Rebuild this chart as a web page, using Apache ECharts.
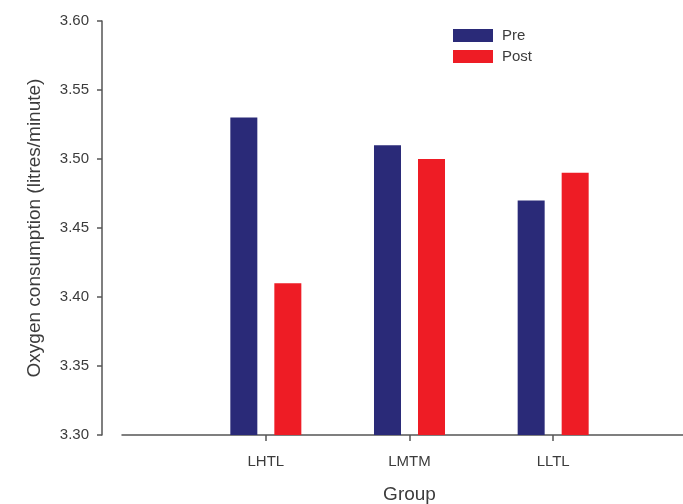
<!DOCTYPE html>
<html>
<head>
<meta charset="utf-8">
<script src="https://cdn.jsdelivr.net/npm/echarts@6/dist/echarts.min.js"></script>
<style>html,body{margin:0;padding:0;background:#fff;}#chart{width:683px;height:504px;}</style>
</head>
<body>
<div id="chart"></div>
<script>
var categories = ['LHTL', 'LMTM', 'LLTL'];
var preValues = [3.53, 3.51, 3.47];
var postValues = [3.41, 3.50, 3.49];
var yTicks = [3.30, 3.35, 3.40, 3.45, 3.50, 3.55, 3.60];

var chart = echarts.init(document.getElementById('chart'));
var axisColor = '#555';
var textColor = '#3c3c3c';
var font = 'Liberation Sans, Arial, sans-serif';
chart.setOption({
  animation: false,
  backgroundColor: '#fff',
  textStyle: {fontFamily: font},
  legend: {
    orient: 'vertical',
    left: 453,
    top: 28,
    padding: 0,
    itemWidth: 40,
    itemHeight: 13,
    itemGap: 6,
    icon: 'rect',
    textStyle: {fontSize: 15, color: textColor, fontFamily: font, padding: [0, 0, 0, 4]},
    data: ['Pre', 'Post']
  },
  grid: [
    {left: 194, right: 58, top: 21, bottom: 69, containLabel: false, outerBoundsMode: 'none'},
    {left: 122, right: 0, top: 21, bottom: 69, containLabel: false, outerBoundsMode: 'none'}
  ],
  xAxis: [
    {
      type: 'category',
      gridIndex: 0,
      data: categories,
      axisLine: {show: false},
      axisTick: {show: true, alignWithLabel: true, length: 6, lineStyle: {color: axisColor, width: 1.5}},
      axisLabel: {color: textColor, fontSize: 15, margin: 19, fontFamily: font},
      name: 'Group',
      nameLocation: 'middle',
      nameGap: 50,
      nameTextStyle: {color: textColor, fontSize: 19, fontFamily: font}
    },
    {
      type: 'value',
      gridIndex: 1,
      min: 0, max: 1,
      axisLine: {show: true, onZero: false, lineStyle: {color: axisColor, width: 1.5}},
      axisTick: {show: false},
      axisLabel: {show: false},
      splitLine: {show: false}
    }
  ],
  yAxis: [
    {
      type: 'value',
      gridIndex: 0,
      min: yTicks[0],
      max: yTicks[yTicks.length - 1],
      interval: 0.05,
      offset: 92,
      axisLine: {show: true, lineStyle: {color: axisColor, width: 1.5}},
      axisTick: {show: true, length: 5, lineStyle: {color: axisColor, width: 1.5}},
      axisLabel: {color: textColor, fontSize: 15, margin: 13, fontFamily: font,
        formatter: function (v) { return v.toFixed(2); }},
      splitLine: {show: false},
      name: 'Oxygen consumption (litres/minute)',
      nameLocation: 'middle',
      nameGap: 58,
      nameTextStyle: {color: textColor, fontSize: 19, fontFamily: font}
    },
    {
      type: 'value',
      gridIndex: 1,
      min: 0, max: 1,
      show: false
    }
  ],
  series: [
    {
      name: 'Pre', type: 'bar', xAxisIndex: 0, yAxisIndex: 0,
      data: preValues, barWidth: 27, barGap: '63%',
      itemStyle: {color: '#2a2a78'}
    },
    {
      name: 'Post', type: 'bar', xAxisIndex: 0, yAxisIndex: 0,
      data: postValues, barWidth: 27, barGap: '63%',
      itemStyle: {color: '#ee1c25'}
    }
  ]
});
</script>
</body>
</html>
